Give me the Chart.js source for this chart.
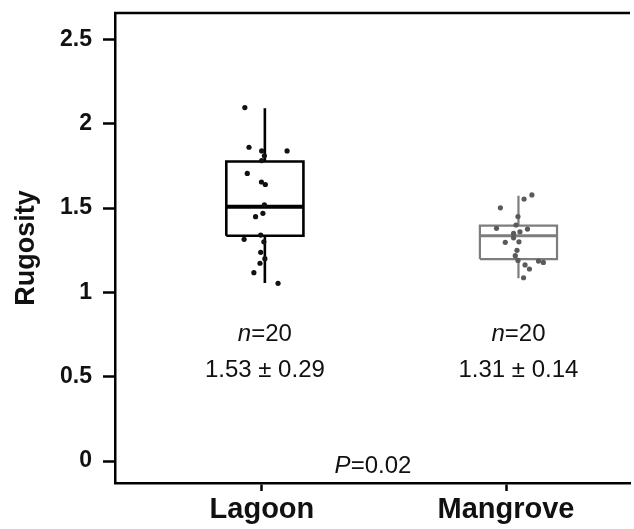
<!DOCTYPE html>
<html>
<head>
<meta charset="utf-8">
<script src="https://cdn.jsdelivr.net/npm/chart.js@4.4.1/dist/chart.umd.min.js"></script>
<style>
  html, body { margin: 0; padding: 0; background: #fff; overflow: hidden; }
  #wrap { position: relative; width: 634px; height: 529px; }
</style>
</head>
<body>
<div id="wrap"><canvas id="c"></canvas></div>
<script>
// ---- data ----
const categories = ['Lagoon', 'Mangrove'];
const categoryPos = [1, 2];
const boxCenter = [1.012, 2.051];
const whiskerLow = [1.056, 1.084];
const q1 = [1.336, 1.198];
const median = [1.508, 1.336];
const q3 = [1.776, 1.396];
const whiskerHigh = [2.092, 1.574];

const lagoonX = [0.930, 0.947, 0.999, 1.010, 1.103, 0.999, 0.940, 0.998, 1.014, 1.004,
                 0.974, 0.995, 0.927, 0.995, 0.992, 0.967, 1.066, 1.008, 1.012, 1.010];
const lagoonY = [2.096, 1.861, 1.839, 1.810, 1.839, 1.782, 1.706, 1.655, 1.640, 1.469,
                 1.449, 1.340, 1.315, 1.238, 1.173, 1.117, 1.054, 1.300, 1.200, 1.520];
const mangroveX = [1.977, 2.074, 2.106, 1.961, 2.088, 2.031, 2.031, 1.997, 2.038, 2.078,
                   2.096, 2.133, 2.153, 2.072, 2.045, 2.049, 2.053, 2.041, 2.057, 2.049];
const mangroveY = [1.502, 1.554, 1.578, 1.380, 1.376, 1.350, 1.324, 1.297, 1.218, 1.163,
                   1.139, 1.186, 1.178, 1.087, 1.250, 1.450, 1.300, 1.400, 1.360, 1.190];

const sampleSizes = [20, 20];
const meanSd = ['1.53 \u00b1 0.29', '1.31 \u00b1 0.14'];
const pValue = '0.02';

const yTicks = [0, 0.5, 1, 1.5, 2, 2.5];
const yTickLabels = ['0', '0.5', '1', '1.5', '2', '2.5'];

// ---- styling / layout constants ----
const groupColors = ['#000000', '#7d7d7d'];
const pointColors = ['#111111', '#5a5a5a'];
const boxHalf = 0.158;
const annot = { nY: 0.753, statY: 0.54, pX: 1.455, pY: -0.033 };
const FONT = "'Liberation Sans', Arial, Helvetica, sans-serif";

const datasets = [];
[[lagoonX, lagoonY], [mangroveX, mangroveY]].forEach((xy, g) => {
  datasets.push({
    type: 'scatter',
    data: xy[0].map((x, i) => ({ x: x, y: xy[1][i] })),
    backgroundColor: pointColors[g],
    borderWidth: 0,
    pointRadius: 2.6,
    order: 0
  });
});
categories.forEach((c, g) => {
  const L = boxCenter[g] - boxHalf, R = boxCenter[g] + boxHalf, X = boxCenter[g];
  datasets.push({
    type: 'line',
    data: [{x: L, y: q1[g]}, {x: R, y: q1[g]}, {x: R, y: q3[g]}, {x: L, y: q3[g]}, {x: L, y: q1[g]}],
    borderColor: groupColors[g], borderWidth: g === 0 ? 2.6 : 2.2,
    pointRadius: 0, fill: false, tension: 0, order: 2, borderJoinStyle: 'miter'
  });
  datasets.push({
    type: 'line',
    data: [{x: L, y: median[g]}, {x: R, y: median[g]}],
    borderColor: groupColors[g], borderWidth: g === 0 ? 4 : 3.2,
    pointRadius: 0, fill: false, order: 1
  });
  datasets.push({
    type: 'line',
    data: [{x: X, y: whiskerLow[g]}, {x: X, y: q1[g]}, {x: X, y: null}, {x: X, y: q3[g]}, {x: X, y: whiskerHigh[g]}],
    borderColor: groupColors[g], borderWidth: g === 0 ? 2.6 : 2.2,
    pointRadius: 0, fill: false, spanGaps: false, order: 3
  });
});

const annotationPlugin = {
  id: 'annot',
  afterDraw(chart) {
    const ctx = chart.ctx, xs = chart.scales.x, ys = chart.scales.y, ca = chart.chartArea;
    ctx.save();
    ctx.strokeStyle = '#000';
    ctx.lineWidth = 2.5;
    ctx.beginPath();
    ctx.moveTo(ca.left - 1, ca.top);
    ctx.lineTo(ca.right, ca.top);
    ctx.stroke();

    ctx.fillStyle = '#111';
    ctx.textBaseline = 'middle';
    const it = 'italic 24px ' + FONT, rg = '24px ' + FONT;
    function mixed(parts, cx, cy) {
      let w = 0;
      parts.forEach(p => { ctx.font = p[1]; w += ctx.measureText(p[0]).width; });
      let x = cx - w / 2;
      ctx.textAlign = 'left';
      parts.forEach(p => { ctx.font = p[1]; ctx.fillText(p[0], x, cy); x += ctx.measureText(p[0]).width; });
    }
    categories.forEach((c, g) => {
      const cx = xs.getPixelForValue(boxCenter[g]);
      mixed([['n', it], ['=' + sampleSizes[g], rg]], cx, ys.getPixelForValue(annot.nY));
      mixed([[meanSd[g], rg]], cx, ys.getPixelForValue(annot.statY));
    });
    mixed([['P', it], ['=' + pValue, rg]], xs.getPixelForValue(annot.pX), ys.getPixelForValue(annot.pY));
    ctx.restore();
  }
};

new Chart(document.getElementById('c'), {
  data: { datasets: datasets },
  options: {
    responsive: true,
    maintainAspectRatio: false,
    devicePixelRatio: 1,
    animation: false,
    events: [],
    layout: { padding: { top: 13, right: 0, left: 0, bottom: 0 } },
    plugins: { legend: { display: false }, tooltip: { enabled: false } },
    scales: {
      x: {
        type: 'linear',
        min: 0.398, max: 2.508,
        afterBuildTicks: s => { s.ticks = categoryPos.map(v => ({ value: v })); },
        afterFit: s => { s.height = 46; s.paddingLeft = 0; s.paddingRight = 0; },
        ticks: {
          callback: v => categories[categoryPos.indexOf(v)],
          color: '#111', padding: 2, maxRotation: 0,
          font: { family: FONT, size: 29, weight: 'bold' }
        },
        grid: { drawOnChartArea: false, drawTicks: true, tickLength: 8, tickWidth: 2.5, tickColor: '#000' },
        border: { display: true, color: '#000', width: 2.5 }
      },
      y: {
        type: 'linear',
        min: -0.13, max: 2.657,
        afterBuildTicks: s => { s.ticks = yTicks.map(v => ({ value: v })); },
        afterFit: s => { s.width = 115; s.paddingTop = 0; s.paddingBottom = 0; },
        ticks: {
          callback: v => yTickLabels[yTicks.indexOf(v)],
          color: '#111', padding: 11,
          font: { family: FONT, size: 23, weight: 'bold' }
        },
        title: {
          display: true, text: 'Rugosity', color: '#111',
          padding: { top: 10, bottom: 0 },
          font: { family: FONT, size: 27, weight: 'bold' }
        },
        grid: { drawOnChartArea: false, drawTicks: true, tickLength: 12, tickWidth: 2.5, tickColor: '#000' },
        border: { display: true, color: '#000', width: 2.5 }
      }
    }
  },
  plugins: [annotationPlugin]
});
</script>
</body>
</html>
